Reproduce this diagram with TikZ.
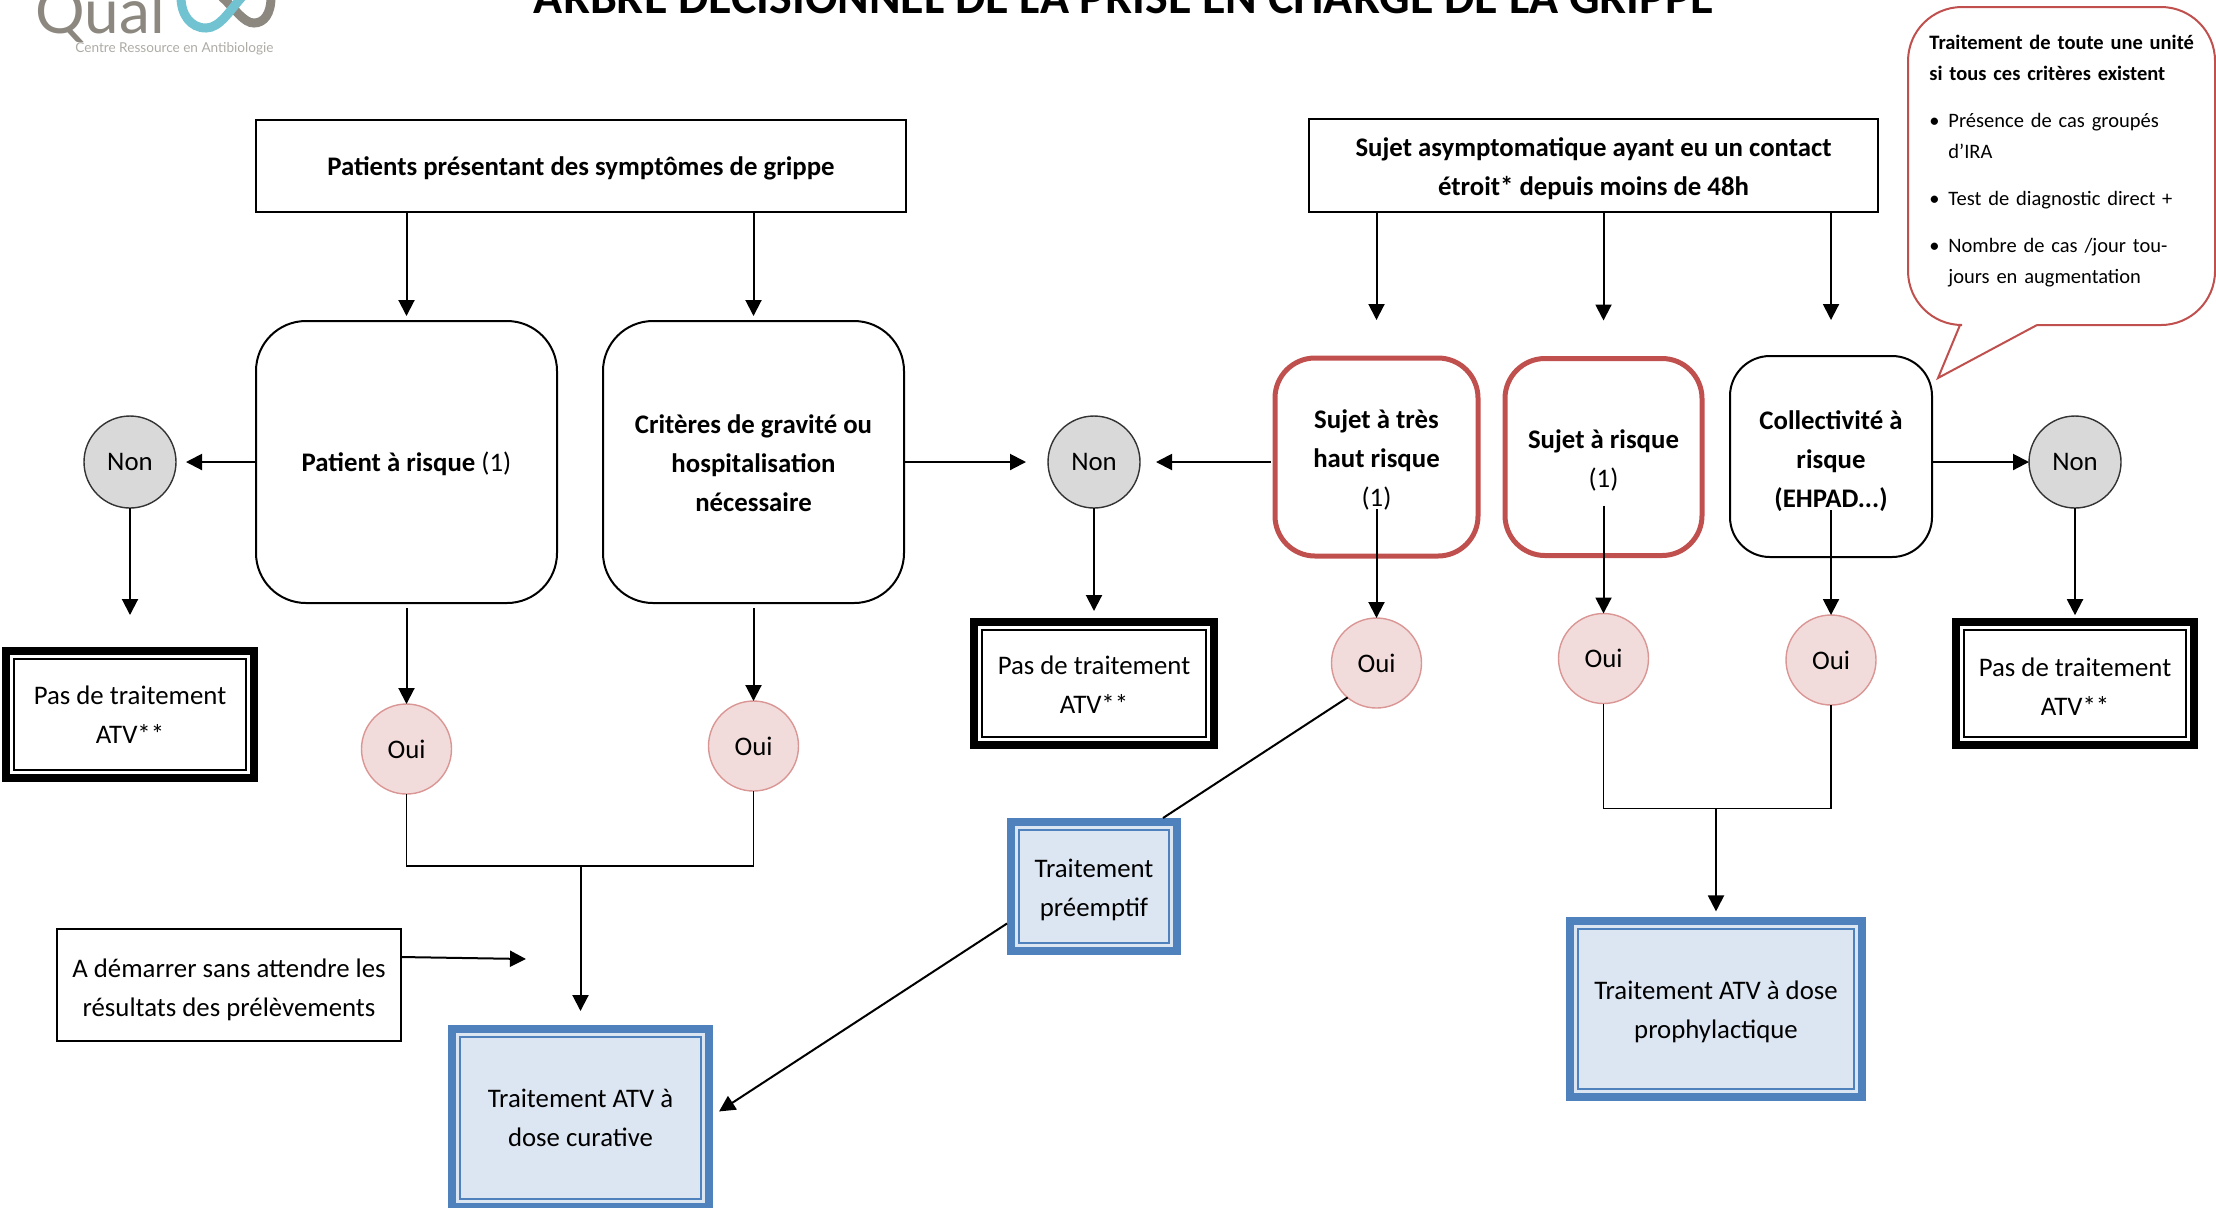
\documentclass[tikz,border=0pt]{standalone}
\usepackage{fontspec}
\setmainfont{Carlito}
\newfontfamily\logofont{Lato}
\usetikzlibrary{arrows.meta,calc,positioning}
\definecolor{redline}{HTML}{C0504D}
\definecolor{blueline}{HTML}{4F81BD}
\definecolor{bluenode}{HTML}{DCE6F2}
\definecolor{pinknode}{HTML}{F2DCDB}
\definecolor{pinkline}{HTML}{D99694}
\definecolor{graynode}{HTML}{D9D9D9}
\definecolor{logogray}{HTML}{8C877F}
\definecolor{logoteal}{HTML}{72C3D1}
\tikzset{
       arr/.style = {-{Triangle[length=8pt,width=8pt]}, line width=1pt},
      link/.style = {line width=.9pt},
      base/.style = {draw, line width=1pt, align=center, inner sep=0pt, outer sep=0pt,
                     font=\fontsize{13.4}{19.5}\selectfont},
   toptext/.style = {execute at begin node={\rule{0pt}{#1}}},
    titled/.style = {base, rectangle, font=\fontsize{13.4}{19.5}\selectfont\bfseries},
     plain/.style = {base, rectangle},
     round/.style = {base, rounded corners=25pt, font=\fontsize{13.4}{19.5}\selectfont\bfseries},
   redbox/.style = {round, draw=redline, line width=2.5pt, rounded corners=20pt},
     nonc/.style = {base, circle, minimum size=46pt, fill=graynode, draw=black!80, line width=.7pt},
     ouic/.style = {base, circle, minimum size=45pt, fill=pinknode, draw=pinkline, line width=.7pt},
  framed/.style = {base, rectangle, line width=4pt,
                   path picture={\draw[line width=1pt, draw=#1]
                     ($(path picture bounding box.south west)+(4pt,4pt)$) rectangle
                     ($(path picture bounding box.north east)-(4pt,4pt)$);}},
  framed/.default = black,
   blacky/.style = {framed=black, draw=black, fill=white},
    bluey/.style = {framed=blueline, draw=blueline, fill=bluenode},
}
\begin{document}
\begin{tikzpicture}[x=.5pt,y=-.5pt]
  \useasboundingbox (0,0) rectangle (2216,1207);

  % logo and title
  \node[anchor=base west,inner sep=0pt,text=logogray,font=\logofont\fontsize{31}{31}\selectfont] (logo) at (35,33) {Qual};
  \draw[logogray,line width=4.5pt] (222,-3) .. controls (236,10) and (244,23) .. (254,23) .. controls (264,23) and (271,14) .. (271,-3);
  \draw[logoteal,line width=4.5pt] (181,-3) .. controls (181,14) and (190,28) .. (206,28) .. controls (220,28) and (230,10) .. (242,-3);
  \node[anchor=base west,inner sep=0pt,text=logogray!70,font=\logofont\fontsize{6.8}{8}\selectfont] (sublogo) at (75,52) {Centre Ressource en Antibiologie};
  \node[anchor=base,inner sep=0pt,font=\fontsize{24}{24}\selectfont\bfseries] (title) at (1124,13) {ARBRE DECISIONNEL DE LA PRISE EN CHARGE DE LA GRIPPE};

  \node[titled,toptext=12pt,minimum width=325pt,minimum height=46pt] (symptomes) at (581,166) {Patients présentant des symptômes de grippe};
  \node[titled,toptext=32pt,minimum width=284.5pt,minimum height=46.5pt] (contact) at (1593.5,165.5) {Sujet asymptomatique ayant eu un contact\\étroit* depuis moins de 48h};

  \node[round,toptext=12pt,minimum width=150.5pt,minimum height=141pt] (risque) at (406.5,462) {Patient à risque {\normalfont(1)}};
  \node[round,toptext=50pt,minimum width=150.5pt,minimum height=141pt,right=23pt of risque] (gravite) {Critères de gravité ou\\hospitalisation\\nécessaire};
  \node[redbox,toptext=51.5pt,minimum width=101.5pt,minimum height=99pt] (tresrisque) at (1376.5,457) {Sujet à très\\haut risque\\{\normalfont(1)}};
  \node[redbox,toptext=32pt,minimum width=98.5pt,minimum height=98.5pt,right=13.5pt of tresrisque] (sujet) {Sujet à risque\\{\normalfont(1)}};
  \node[round,toptext=52.7pt,rounded corners=20pt,minimum width=101pt,minimum height=100.5pt] (collectivite) at (1831,456.5) {Collectivité à\\risque\\(EHPAD...)};

  \node[nonc,left=40pt of risque] (non1) {Non};
  \node[nonc,right=72pt of gravite] (non2) {Non};
  \node[nonc] (non3) at (2075,462) {Non};
  \node[ouic,below=50.5pt of risque] (oui1) {Oui};
  \node[ouic,below=49pt of gravite] (oui2) {Oui};
  \node[ouic,below=31pt of tresrisque] (oui3) {Oui};
  \node[ouic,below=29pt of sujet] (oui4) {Oui};
  \node[ouic,below=29pt of collectivite] (oui5) {Oui};

  \node[blacky,minimum width=124pt,minimum height=63.5pt,below=71.5pt of non1] (pas1) {Pas de traitement\\ATV**};
  \node[blacky,toptext=30.4pt,minimum width=120pt,minimum height=61.5pt,below=57pt of non2] (pas2) {Pas de traitement\\ATV**};
  \node[blacky,toptext=32pt,minimum width=119pt,minimum height=61.5pt,below=57pt of non3] (pas3) {Pas de traitement\\ATV**};

  \node[bluey,toptext=32pt,minimum width=83pt,minimum height=64.5pt,below=38.5pt of pas2] (preemptif) {Traitement\\préemptif};
  \node[bluey,minimum width=128.5pt,minimum height=89pt] (curative) at (580.5,1118) {Traitement ATV à\\dose curative};
  \node[bluey,toptext=32pt,minimum width=146pt,minimum height=88pt] (prophylaxie) at (1716,1009) {Traitement ATV à dose\\prophylactique};
  \node[plain,toptext=33.7pt,minimum width=172pt,minimum height=56pt] (demarrer) at (229,985) {A démarrer sans attendre les\\résultats des prélèvements};

  % callout
  \draw[redline,line width=1pt,rounded corners=27pt] (1960,325) -- (1908,325) -- (1908,7) -- (2215,7) -- (2215,325) -- (2037,325);
  \draw[redline,line width=1pt] (1960,325) -- (1938,378) -- (2037,325);
  \node[anchor=north west,inner sep=0pt,align=left,text width=150pt,font=\fontsize{10.25}{15.5}\selectfont] (criteres) at (1929,35) {%
    \textbf{Traitement de toute une unité}\\
    \textbf{si tous ces critères existent}\\[8pt]
    \makebox[9.5pt][l]{\textbullet}Présence de cas groupés\\
    \hspace*{9.5pt}d’IRA\\[8pt]
    \makebox[9.5pt][l]{\textbullet}Test de diagnostic direct +\\[8pt]
    \makebox[9.5pt][l]{\textbullet}Nombre de cas /jour tou-\\
    \hspace*{9.5pt}jours en augmentation};

  % top arrows
  \draw[arr,shorten >=2.5pt] (symptomes.south -| risque) -- (risque);
  \draw[arr,shorten >=2.5pt] (symptomes.south -| gravite) -- (gravite);
  \draw[arr,shorten >=19pt] (contact.south -| tresrisque) -- (tresrisque.north);
  \draw[arr,shorten >=19pt] (contact.south -| sujet) -- (sujet.north);
  \draw[arr,shorten >=18pt] (contact.south -| collectivite) -- (collectivite.north);

  \draw[arr,shorten >=5pt] (risque) -- (non1);
  \draw[arr,shorten >=18pt] (non1) -- (pas1);
  \draw[arr] ([yshift=-2.5pt]risque.south -| oui1) -- (oui1);
  \draw[arr] ([yshift=-2.5pt]gravite.south -| oui2) -- (oui2);
  \draw[arr,shorten >=11pt] (gravite) -- (non2);
  \draw[arr,shorten >=5.5pt] (non2) -- (pas2);
  \draw[arr,shorten >=8pt] ([xshift=-2pt]tresrisque.west |- non2) -- (non2);
  \draw[arr] ([yshift=23.5pt]tresrisque.south) -- (oui3);
  \draw[arr] ([yshift=25pt]sujet.south) -- (oui4);
  \draw[arr] ([yshift=23.5pt]collectivite.south) -- (oui5);
  \draw[arr] (collectivite.east |- non3) -- (non3);
  \draw[arr,shorten >=3.4pt] (non3) -- (pas3);

  % joins
  \coordinate (join1) at ($(oui1.south)+(0,72)$);
  \coordinate (join2) at ($(oui4.south)+(0,105)$);
  \coordinate (start) at (526,959);
  \draw[link] (oui1) -- (join1) -- (join1 -| oui2) -- (oui2);
  \draw[arr,shorten >=9pt] (join1 -| curative) -- (curative);
  \draw[link] (oui4) -- (join2) -- (join2 -| oui5) -- (oui5);
  \draw[arr,shorten >=4.8pt] (join2 -| prophylaxie) -- (prophylaxie);
  \draw[arr] ([yshift=14pt]demarrer.east) -- (start);
  \draw[link,line width=1pt] (oui3.230) -- ([shift={(-7pt,2pt)}]preemptif.north east);
  \draw[arr,shorten >=6pt] ([shift={(-2pt,-18.5pt)}]preemptif.west) -- (curative.east);
\end{tikzpicture}
\end{document}
